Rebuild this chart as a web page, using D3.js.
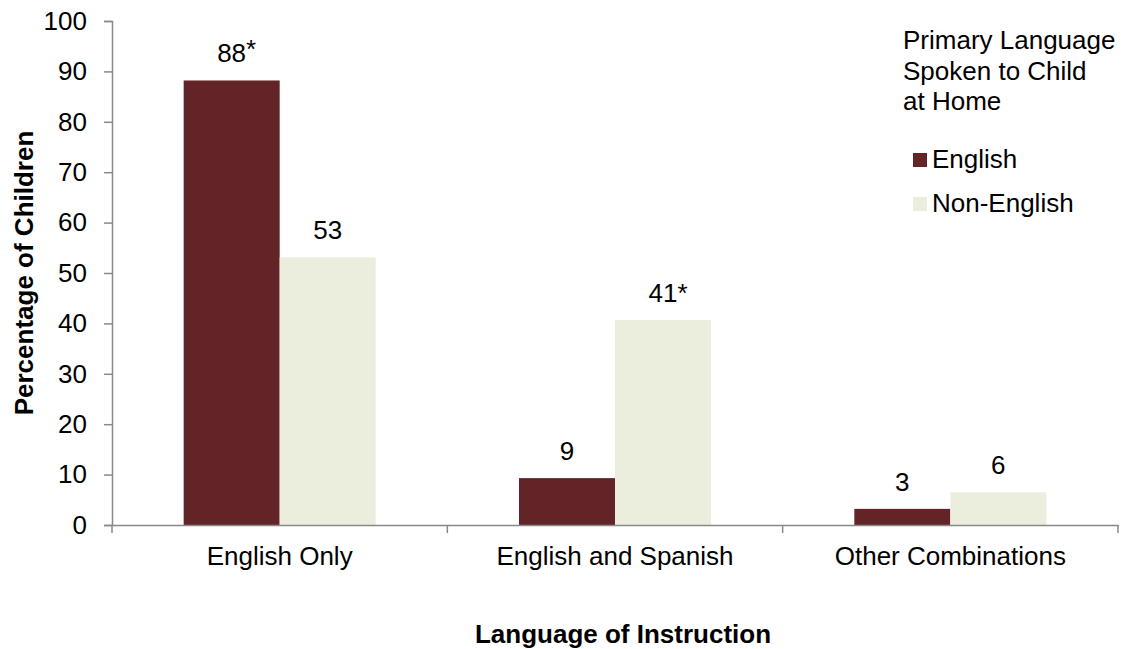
<!DOCTYPE html>
<html><head><meta charset="utf-8">
<script src="https://cdn.jsdelivr.net/npm/d3@7"></script>
<style>body{margin:0;background:#fff;} text{font-family:"Liberation Sans",Arial,sans-serif;fill:#000;}</style>
</head><body>
<svg id="c" width="1121" height="649"></svg>
<script>
const categories = ["English Only", "English and Spanish", "Other Combinations"];
const seriesNames = ["English", "Non-English"];
const englishValues = [88.2, 9.3, 3.2];
const nonEnglishValues = [53.1, 40.7, 6.5];
const englishLabels = ["88*", "9", "3"];
const nonEnglishLabels = ["53", "41*", "6"];
const yTicks = [0,10,20,30,40,50,60,70,80,90,100];
const colors = ["#622426", "#EBEEDD"];

(function(){
const svg = d3.select("#c");
const FS = 26;
const FF = "Liberation Sans, Arial, sans-serif";
const mLeft = 112, mRight = 1118, mTop = 21, mBottom = 525;
const x = d3.scaleBand().domain(categories).range([mLeft, mRight]);
const inner = d3.scaleBand().domain(seriesNames).range([0, 192]);
const y = d3.scaleLinear().domain([0,100]).range([mBottom, mTop]);
const axisColor = "#898989";

const series = [englishValues, nonEnglishValues];
const labels = [englishLabels, nonEnglishLabels];
series.forEach((vals, si) => {
  const g = svg.append("g");
  categories.forEach((c, ci) => {
    const bx = x(c) + (x.bandwidth() - 192) / 2 + inner(seriesNames[si]);
    g.append("rect").attr("x", bx).attr("y", y(vals[ci])).attr("width", inner.bandwidth())
      .attr("height", mBottom - y(vals[ci])).attr("fill", colors[si]);
    const lab = labels[si][ci];
    const t = g.append("text").attr("x", bx + inner.bandwidth()/2).attr("y", y(vals[ci]) - 18)
      .attr("text-anchor", "middle").attr("font-size", FS);
    if (lab.endsWith("*")) {
      t.attr("dx", 5);
      t.append("tspan").text(lab.slice(0,-1));
      const raise = si === 0 ? -4 : 0;
      t.append("tspan").attr("dy", raise).text("*");
    } else t.text(lab);
  });
});

// y axis
const ya = svg.append("g").attr("transform", `translate(${mLeft},0)`)
  .call(d3.axisLeft(y).tickValues(yTicks).tickSize(8).tickPadding(17));
ya.select(".domain").attr("stroke", axisColor).attr("stroke-width", 1.5);
ya.selectAll(".tick line").attr("stroke", axisColor).attr("stroke-width", 1.5);
ya.selectAll(".tick text").attr("font-size", FS).attr("font-family", FF).attr("fill", "#000");

// x axis
const xa = svg.append("g").attr("transform", `translate(0,${mBottom})`)
  .call(d3.axisBottom(x).tickSize(0).tickPadding(21.5).tickSizeOuter(0));
xa.select(".domain").attr("stroke", axisColor).attr("stroke-width", 1.5);
xa.selectAll(".tick text").attr("font-size", FS).attr("font-family", FF).attr("fill", "#000");
const bounds = categories.map(c => x(c)).concat([x(categories[categories.length-1]) + x.bandwidth()]);
svg.append("g").selectAll("line").data(bounds).join("line")
  .attr("x1", d => d).attr("x2", d => d).attr("y1", mBottom).attr("y2", mBottom + 8)
  .attr("stroke", axisColor).attr("stroke-width", 1.5);

// titles
svg.append("text").attr("transform", `translate(33,${(mTop+mBottom)/2}) rotate(-90)`)
  .attr("text-anchor", "middle").attr("font-size", FS).attr("font-weight", "bold").text("Percentage of Children");
svg.append("text").attr("x", 623).attr("y", 643).attr("text-anchor", "middle")
  .attr("font-size", FS).attr("font-weight", "bold").text("Language of Instruction");

// legend
const lt = ["Primary Language", "Spoken to Child", "at Home"];
svg.append("g").selectAll("text").data(lt).join("text")
  .attr("x", 903).attr("y", (d,i) => 49 + i*30.5).attr("font-size", FS).text(d => d);
seriesNames.forEach((s, i) => {
  const base = 168 + i*44;
  svg.append("rect").attr("x", 913).attr("y", base - 15).attr("width", 14).attr("height", 14).attr("fill", colors[i]);
  svg.append("text").attr("x", 932).attr("y", base).attr("font-size", FS).text(s);
});
})();
</script>
</body></html>
